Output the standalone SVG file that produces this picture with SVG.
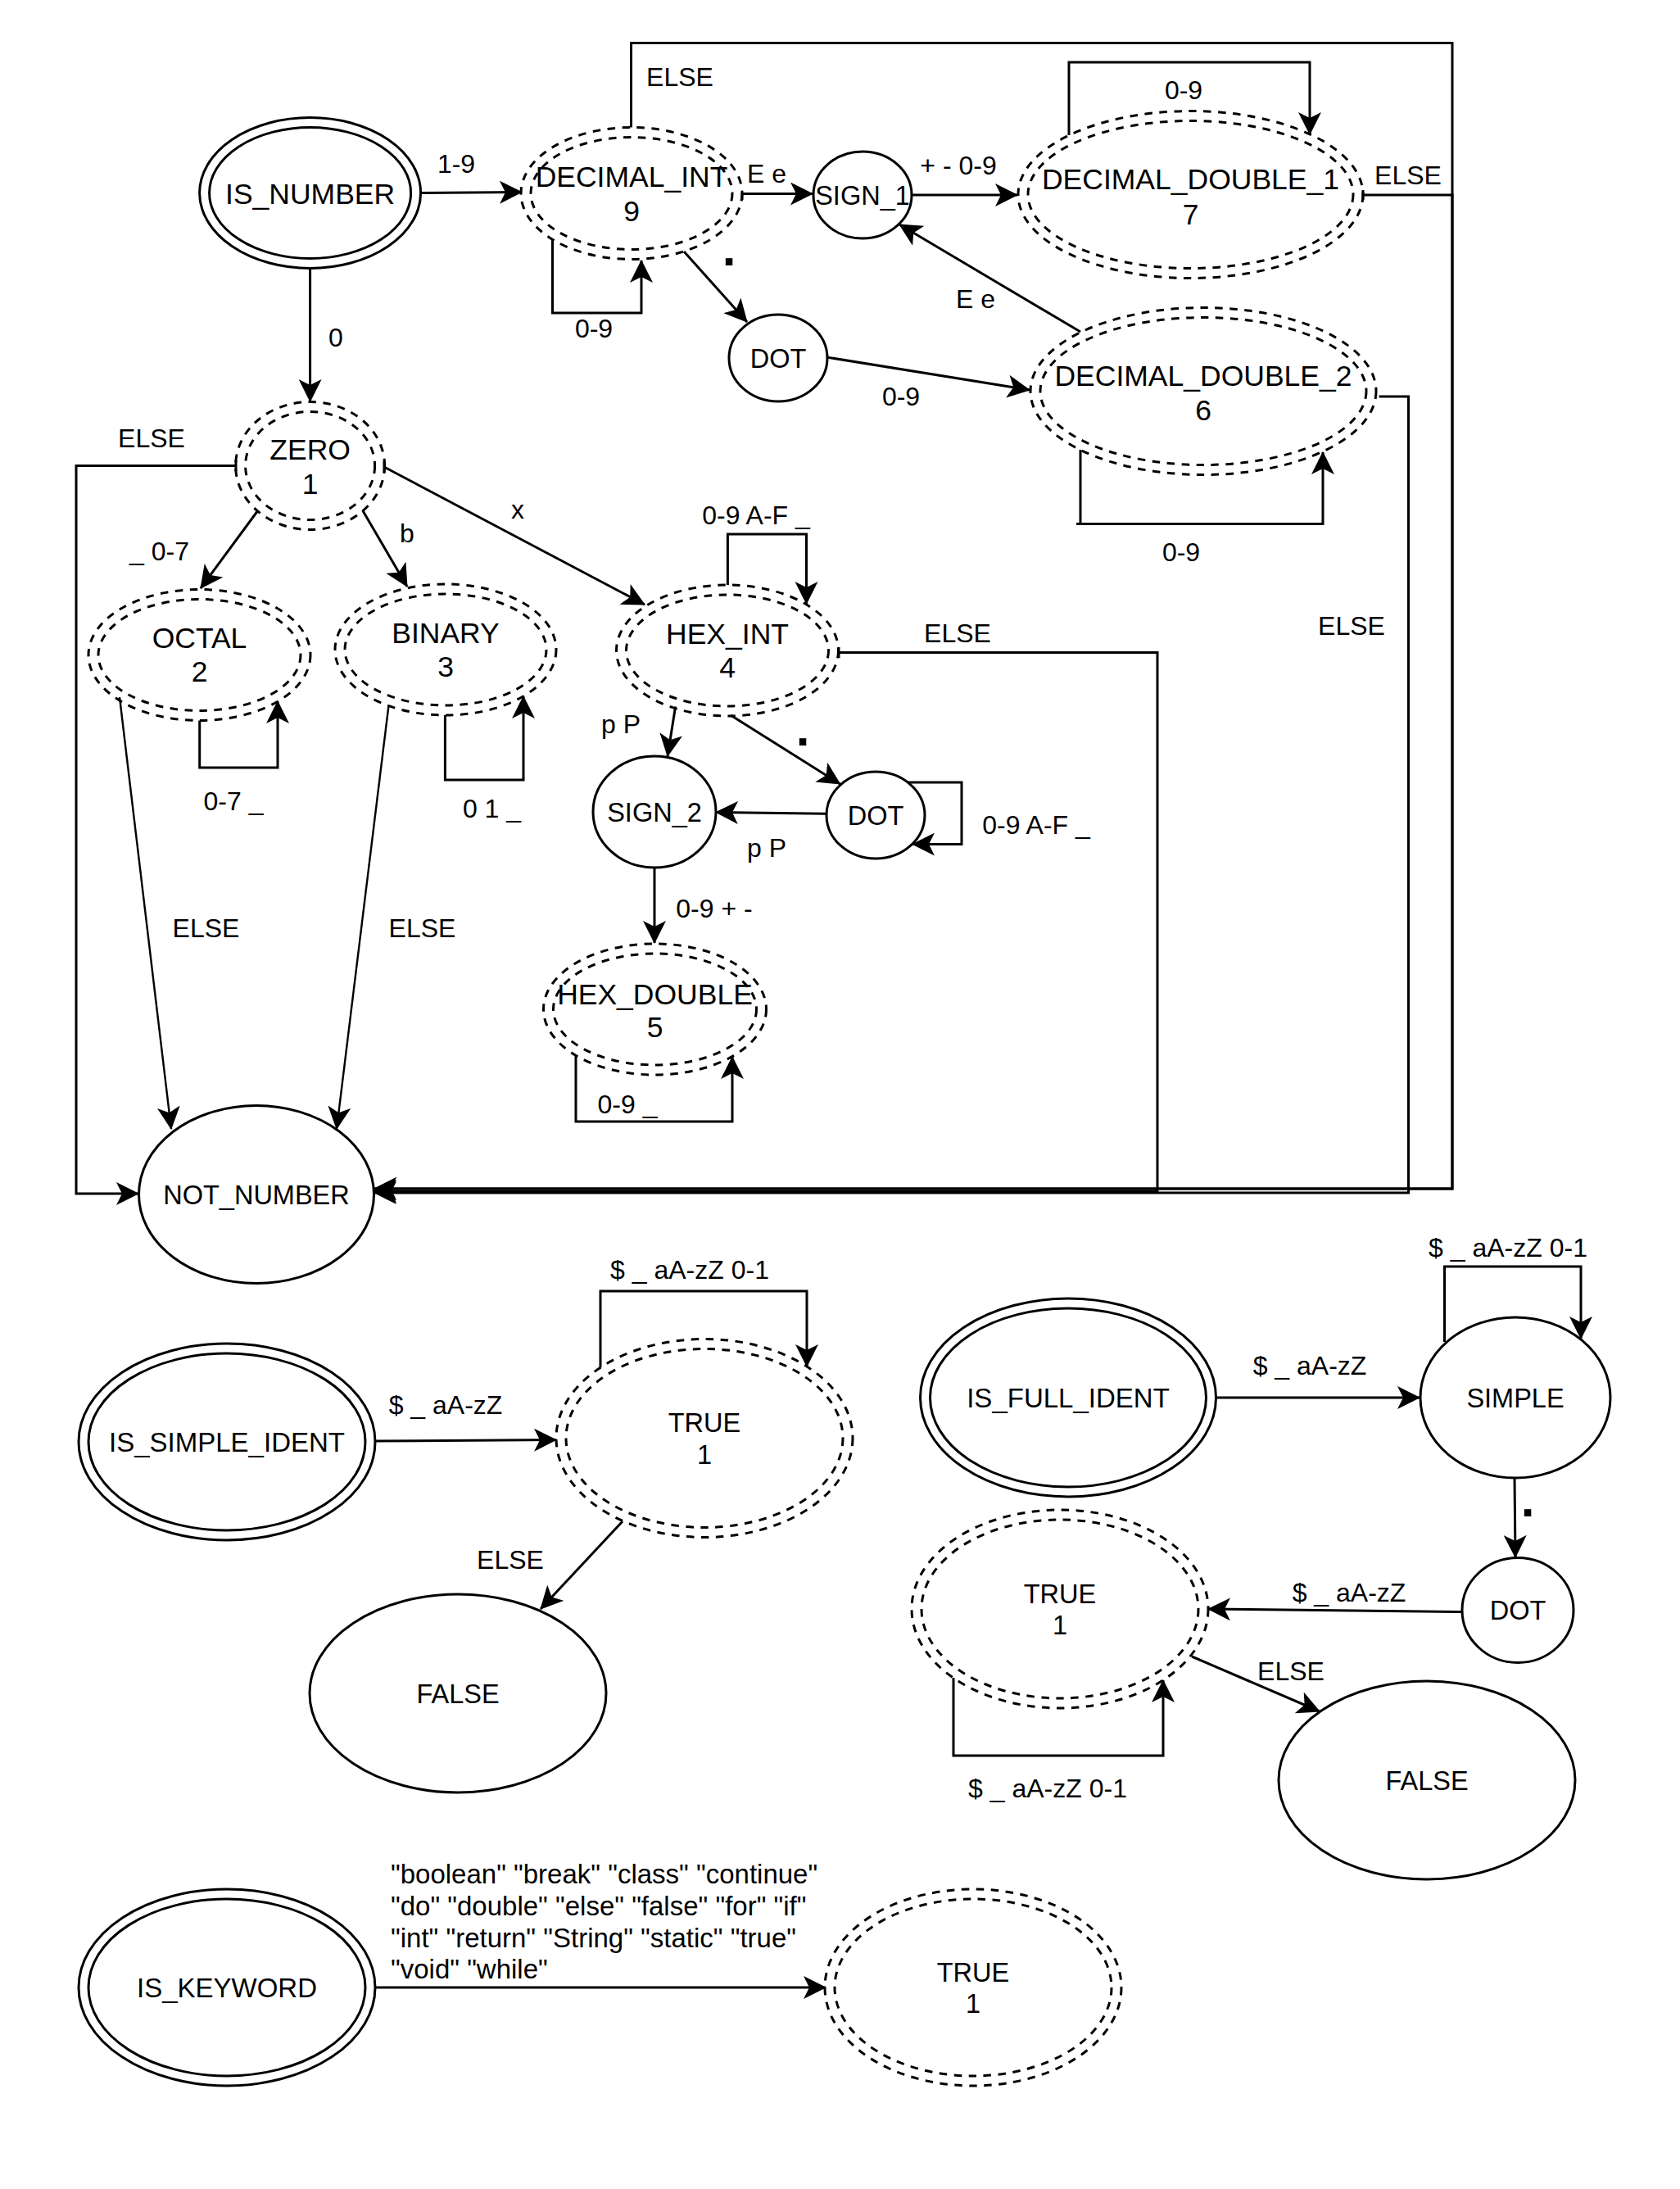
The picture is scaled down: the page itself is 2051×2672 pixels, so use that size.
<svg xmlns="http://www.w3.org/2000/svg" width="2051" height="2672" viewBox="0 0 2051 2672">
<defs>
<marker id="a" markerUnits="userSpaceOnUse" markerWidth="28" markerHeight="28" viewBox="0 0 28 28" refX="27" refY="14" orient="auto"><path d="M0,0 L28,14 L0,28 L7,14 Z" fill="#000"/></marker>
<style>
.s{fill:#fff;stroke:#000;stroke-width:3}
.o{fill:none;stroke:#000;stroke-width:3}
.d{fill:#fff;stroke:#000;stroke-width:3;stroke-dasharray:9.5 8.5}
.di{fill:none;stroke:#000;stroke-width:3;stroke-dasharray:9.5 8.5}
.e{fill:none;stroke:#000;stroke-width:3;marker-end:url(#a)}
.th{stroke-width:2.4}
text{font-family:"Liberation Sans",Arial,Helvetica,sans-serif;fill:#000;text-anchor:middle}
.l{font-size:32px}
.n{font-size:32.5px}
.b{font-size:35.5px}
.p{font-size:60px;font-weight:bold}
.k{font-size:33px;text-anchor:start}
</style>
</defs>
<rect width="2051" height="2672" fill="#fff"/>

<g id="IS_NUMBER"><ellipse class="s" cx="378.6" cy="235.5" rx="135" ry="92"/><ellipse class="o" cx="378.6" cy="235.5" rx="123" ry="80"/><text class="b" x="378.6" y="248.5">IS_NUMBER</text></g>
<g id="DECIMAL_INT"><ellipse class="d" cx="771" cy="236" rx="135" ry="80.5"/><ellipse class="di" cx="771" cy="236" rx="123" ry="68.5"/><text class="b" x="771" y="228">DECIMAL_INT</text><text class="b" x="771" y="270">9</text></g>
<g id="SIGN_1"><ellipse class="s" cx="1053" cy="238" rx="60" ry="53"/><text class="n" x="1053" y="249.5">SIGN_1</text></g>
<g id="DECIMAL_DOUBLE_1"><ellipse class="d" cx="1453.5" cy="237.5" rx="210.5" ry="102"/><ellipse class="di" cx="1453.5" cy="237.5" rx="198.5" ry="90"/><text class="b" x="1453.5" y="231">DECIMAL_DOUBLE_1</text><text class="b" x="1453.5" y="273.5">7</text></g>
<g id="DOT_1"><ellipse class="s" cx="950" cy="437" rx="60" ry="53"/><text class="n" x="950" y="448.5">DOT</text></g>
<g id="DECIMAL_DOUBLE_2"><ellipse class="d" cx="1469" cy="477.5" rx="211" ry="102"/><ellipse class="di" cx="1469" cy="477.5" rx="199" ry="90"/><text class="b" x="1469" y="471">DECIMAL_DOUBLE_2</text><text class="b" x="1469" y="513">6</text></g>
<g id="ZERO"><ellipse class="d" cx="378.6" cy="568.5" rx="91" ry="78"/><ellipse class="di" cx="378.6" cy="568.5" rx="79" ry="66"/><text class="b" x="378.6" y="560.5">ZERO</text><text class="b" x="378.6" y="603">1</text></g>
<g id="OCTAL"><ellipse class="d" cx="243.5" cy="799.5" rx="135.5" ry="80"/><ellipse class="di" cx="243.5" cy="799.5" rx="123.5" ry="68"/><text class="b" x="243.5" y="791">OCTAL</text><text class="b" x="243.5" y="832">2</text></g>
<g id="BINARY"><ellipse class="d" cx="544" cy="793" rx="135" ry="80"/><ellipse class="di" cx="544" cy="793" rx="123" ry="68"/><text class="b" x="544" y="785">BINARY</text><text class="b" x="544" y="826">3</text></g>
<g id="HEX_INT"><ellipse class="d" cx="888" cy="794" rx="135.5" ry="80"/><ellipse class="di" cx="888" cy="794" rx="123.5" ry="68"/><text class="b" x="888" y="785.5">HEX_INT</text><text class="b" x="888" y="827">4</text></g>
<g id="SIGN_2"><ellipse class="s" cx="799" cy="991" rx="75" ry="68"/><text class="n" x="799" y="1003">SIGN_2</text></g>
<g id="DOT_2"><ellipse class="s" cx="1069" cy="995" rx="60" ry="53"/><text class="n" x="1069" y="1006.5">DOT</text></g>
<g id="HEX_DOUBLE"><ellipse class="d" cx="799.5" cy="1232" rx="136" ry="80"/><ellipse class="di" cx="799.5" cy="1232" rx="124" ry="68"/><text class="b" x="799.5" y="1226">HEX_DOUBLE</text><text class="b" x="799.5" y="1266">5</text></g>
<g id="NOT_NUMBER"><ellipse class="s" cx="313" cy="1458" rx="143.5" ry="108.5"/><text class="n" x="313" y="1470">NOT_NUMBER</text></g>

<g id="IS_SIMPLE_IDENT"><ellipse class="s" cx="277" cy="1760" rx="181" ry="120"/><ellipse class="o" cx="277" cy="1760" rx="169" ry="108"/><text x="277" y="1771.5" style="font-size:33px">IS_SIMPLE_IDENT</text></g>
<g id="TRUE_SIMPLE"><ellipse class="d" cx="860" cy="1755.5" rx="181" ry="121"/><ellipse class="di" cx="860" cy="1755.5" rx="169" ry="109"/><text class="n" x="860" y="1748">TRUE</text><text class="n" x="860" y="1786.5">1</text></g>
<g id="FALSE_SIMPLE"><ellipse class="s" cx="559" cy="2067" rx="181" ry="121"/><text class="n" x="559" y="2078.5">FALSE</text></g>

<g id="IS_FULL_IDENT"><ellipse class="s" cx="1304" cy="1706" rx="180.5" ry="121"/><ellipse class="o" cx="1304" cy="1706" rx="168.5" ry="109"/><text x="1304" y="1717.5" style="font-size:33px">IS_FULL_IDENT</text></g>
<g id="SIMPLE"><ellipse class="s" cx="1850" cy="1706" rx="116" ry="98"/><text class="n" x="1850" y="1717.5">SIMPLE</text></g>
<g id="DOT_3"><ellipse class="s" cx="1853" cy="1965.5" rx="68" ry="64"/><text class="n" x="1853" y="1977">DOT</text></g>
<g id="TRUE_FULL"><ellipse class="d" cx="1294" cy="1964" rx="181" ry="121"/><ellipse class="di" cx="1294" cy="1964" rx="169" ry="109"/><text class="n" x="1294" y="1956.5">TRUE</text><text class="n" x="1294" y="1995">1</text></g>
<g id="FALSE_FULL"><ellipse class="s" cx="1742" cy="2173" rx="181" ry="121"/><text class="n" x="1742" y="2185">FALSE</text></g>

<g id="IS_KEYWORD"><ellipse class="s" cx="277" cy="2426" rx="181" ry="120"/><ellipse class="o" cx="277" cy="2426" rx="169" ry="108"/><text x="277" y="2438" style="font-size:33px">IS_KEYWORD</text></g>
<g id="TRUE_KEYWORD"><ellipse class="d" cx="1188" cy="2426" rx="181" ry="120"/><ellipse class="di" cx="1188" cy="2426" rx="169" ry="108"/><text class="n" x="1188" y="2418.5">TRUE</text><text class="n" x="1188" y="2457">1</text></g>

<g id="connectors">
<path class="e" d="M514,235.5 L637,234.5"/>
<path class="e" d="M378.6,328 L378.6,490"/>
<path class="e" d="M906,244 V236.5 H992"/>
<path class="e" d="M1113.5,238 H1242"/>
<path class="e" d="M1305,165 V76 H1599 V164"/>
<path class="e" d="M674.5,292 V382 H783 V318"/>
<path class="e" d="M835,307 L912,393"/>
<path class="e" d="M1009,436 L1257,476"/>
<path class="e" d="M1319,405 L1098,274"/>
<path class="o" d="M1314,639.5 H1319"/>
<path class="e" d="M1319,549 V639.5 H1615 V552"/>
<path class="e" d="M770.5,155.5 V52.6 H1773 V1451 H457"/>
<path class="e" d="M1664,232 V244 M1664,238 H1773 V1451 H457"/>
<path class="e" d="M1683.5,484 H1719.5 V1456 H457"/>
<path class="e" d="M1024,790 V803 M1024,796.5 H1413 V1454 H457"/>
<path class="e" d="M288,562 V575 M288,568.5 H93 V1457 H169"/>
<path class="e" d="M315,623 L245,718"/>
<path class="e" d="M442.7,623 L497,716"/>
<path class="e" d="M469,563 V577 M469,570 L787,738"/>
<path class="e" d="M243.7,879.5 V937 H339 V856"/>
<path class="e" d="M543.4,873 V952 H639 V850"/>
<path class="e th" d="M146,851 L209,1378"/>
<path class="e th" d="M474.5,861 L411,1378"/>
<path class="e" d="M888.4,714 V652 H984.5 V737"/>
<path class="e" d="M824.6,862.4 L815,923"/>
<path class="e" d="M892,873 L1025.6,957"/>
<path class="e" d="M1008,993.3 L874,991.6"/>
<path class="e" d="M1108.5,955 H1174 V1030.6 H1114"/>
<path class="e" d="M799,1059 V1151"/>
<path class="e" d="M703,1288 V1369 H894 V1290"/>
<path class="e" d="M457,1759 L679,1757.5"/>
<path class="e" d="M733,1669 V1576 H985 V1668"/>
<path class="e" d="M760,1857 L660,1964"/>
<path class="e" d="M1484.5,1706 H1733"/>
<path class="e" d="M1763.5,1638 V1546 H1930 V1634"/>
<path class="e" d="M1849,1804 L1850,1901"/>
<path class="e" d="M1785,1967.5 L1475,1964"/>
<path class="e" d="M1455,2022 L1611,2089"/>
<path class="e" d="M1164,2048 V2143 H1420 V2051"/>
<path class="e" d="M458,2426 H1008"/>

<text class="l" x="557" y="210.5">1-9</text>
<text class="l" x="410" y="423">0</text>
<text class="l" x="936" y="223">E e</text>
<text class="l" x="1170" y="212.5">+ - 0-9</text>
<text class="l" x="1445" y="120.5">0-9</text>
<text class="l" x="1719" y="225">ELSE</text>
<text class="l" x="725" y="412">0-9</text>
<text class="p" x="890" y="324">.</text>
<text class="l" x="830" y="104.5">ELSE</text>
<text class="l" x="1100" y="495">0-9</text>
<text class="l" x="1191" y="376">E e</text>
<text class="l" x="1442" y="684.5">0-9</text>
<text class="l" x="1650" y="775">ELSE</text>
<text class="l" x="185" y="546">ELSE</text>
<text class="l" x="194.5" y="684">_ 0-7</text>
<text class="l" x="497" y="662">b</text>
<text class="l" x="632" y="633">x</text>
<text class="l" x="285" y="989">0-7 _</text>
<text class="l" x="600.5" y="998">0 1 _</text>
<text class="l" x="923" y="640">0-9 A-F _</text>
<text class="l" x="1169" y="784">ELSE</text>
<text class="l" x="758" y="895">p P</text>
<text class="p" x="980" y="910">.</text>
<text class="l" x="936" y="1046">p P</text>
<text class="l" x="1265" y="1018">0-9 A-F _</text>
<text class="l" x="872" y="1120">0-9 + -</text>
<text class="l" x="766" y="1359">0-9 _</text>
<text class="l" x="251.5" y="1143.5">ELSE</text>
<text class="l" x="515.5" y="1143.5">ELSE</text>
<text class="l" x="842" y="1560.5">$ _ aA-zZ 0-1</text>
<text class="l" x="544" y="1726">$ _ aA-zZ</text>
<text class="l" x="623" y="1914.5">ELSE</text>
<text class="l" x="1841" y="1534">$ _ aA-zZ 0-1</text>
<text class="l" x="1599" y="1677.5">$ _ aA-zZ</text>
<text class="p" x="1865" y="1851">.</text>
<text class="l" x="1647" y="1954.5">$ _ aA-zZ</text>
<text class="l" x="1576" y="2051">ELSE</text>
<text class="l" x="1279" y="2194">$ _ aA-zZ 0-1</text>
<text class="k" x="477" y="2299">"boolean" "break" "class" "continue"</text>
<text class="k" x="477" y="2338">"do" "double" "else" "false" "for" "if"</text>
<text class="k" x="477" y="2376.5">"int" "return" "String" "static" "true"</text>
<text class="k" x="477" y="2415">"void" "while"</text>
</g>
</svg>
